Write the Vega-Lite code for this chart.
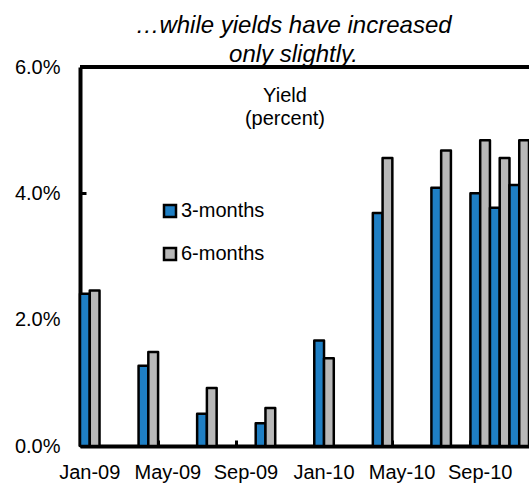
{
  "$schema": "https://vega.github.io/schema/vega-lite/v6.json",
  "width": 449,
  "height": 379,
  "autosize": {"type": "none"},
  "padding": {"left": 80, "top": 67, "right": 0, "bottom": 41},
  "background": "white",
  "config": {
    "font": "Liberation Sans",
    "view": {"stroke": null}
  },
  "title": {
    "text": ["…while yields have increased", "only slightly."],
    "fontSize": 24,
    "fontStyle": "italic",
    "fontWeight": "normal",
    "color": "black",
    "anchor": "middle",
    "baseline": "bottom",
    "lineHeight": 29,
    "dx": -11,
    "offset": -34
  },
  "data": {
    "values": [
      {"month": "Jan-09", "series": "3-months", "yield": 2.41},
      {"month": "Jan-09", "series": "6-months", "yield": 2.46},
      {"month": "Apr-09", "series": "3-months", "yield": 1.27},
      {"month": "Apr-09", "series": "6-months", "yield": 1.49},
      {"month": "Jul-09", "series": "3-months", "yield": 0.51},
      {"month": "Jul-09", "series": "6-months", "yield": 0.92},
      {"month": "Oct-09", "series": "3-months", "yield": 0.36},
      {"month": "Oct-09", "series": "6-months", "yield": 0.60},
      {"month": "Jan-10", "series": "3-months", "yield": 1.67},
      {"month": "Jan-10", "series": "6-months", "yield": 1.39},
      {"month": "Apr-10", "series": "3-months", "yield": 3.69},
      {"month": "Apr-10", "series": "6-months", "yield": 4.56},
      {"month": "Jul-10", "series": "3-months", "yield": 4.09},
      {"month": "Jul-10", "series": "6-months", "yield": 4.68},
      {"month": "Sep-10", "series": "3-months", "yield": 4.00},
      {"month": "Sep-10", "series": "6-months", "yield": 4.84},
      {"month": "Oct-10", "series": "3-months", "yield": 3.77},
      {"month": "Oct-10", "series": "6-months", "yield": 4.56},
      {"month": "Nov-10", "series": "3-months", "yield": 4.13},
      {"month": "Nov-10", "series": "6-months", "yield": 4.84}
    ]
  },
  "layer": [
    {
      "mark": {"type": "bar", "stroke": "black", "strokeWidth": 2.5, "strokeJoin": "round"},
      "encoding": {
        "x": {
          "field": "month",
          "type": "ordinal",
          "sort": null,
          "scale": {
            "domain": ["Jan-09","Feb-09","Mar-09","Apr-09","May-09","Jun-09","Jul-09","Aug-09","Sep-09","Oct-09","Nov-09","Dec-09","Jan-10","Feb-10","Mar-10","Apr-10","May-10","Jun-10","Jul-10","Aug-10","Sep-10","Oct-10","Nov-10"],
            "paddingInner": 0,
            "paddingOuter": 0
          },
          "axis": {
            "title": null,
            "values": ["Jan-09","May-09","Sep-09","Jan-10","May-10","Sep-10"],
            "labelAngle": 0,
            "labelFontSize": 20,
            "labelColor": "black",
            "labelPadding": 22,
            "bandPosition": 0,
            "domainColor": "black",
            "domainWidth": 4,
            "tickColor": "black",
            "tickWidth": 3,
            "tickSize": -6,
            "grid": false
          }
        },
        "xOffset": {
          "field": "series",
          "type": "nominal",
          "scale": {"paddingInner": 0, "paddingOuter": 0}
        },
        "y": {
          "field": "yield",
          "type": "quantitative",
          "scale": {"domain": [0, 6], "nice": false},
          "axis": {
            "title": null,
            "values": [0, 2, 4, 6],
            "labelExpr": "format(datum.value, '.1f') + '%'",
            "labelFontSize": 20,
            "labelColor": "black",
            "labelPadding": 26,
            "domainColor": "black",
            "domainWidth": 4,
            "tickColor": "black",
            "tickWidth": 3,
            "tickSize": -6,
            "grid": false
          }
        },
        "color": {
          "field": "series",
          "type": "nominal",
          "scale": {"domain": ["3-months", "6-months"], "range": ["#1f7fc4", "#b8b8b8"]},
          "legend": {
            "title": null,
            "orient": "none",
            "legendX": 80,
            "legendY": 134,
            "symbolType": "square",
            "symbolSize": 144,
            "symbolStrokeColor": "black",
            "symbolStrokeWidth": 2.5,
            "symbolOpacity": 1,
            "labelFontSize": 20,
            "labelColor": "black",
            "labelOffset": 1,
            "rowPadding": 21
          }
        }
      }
    },
    {
      "data": {"values": [{}]},
      "mark": {"type": "rule", "strokeWidth": 4, "color": "black"},
      "encoding": {"y": {"datum": 6}}
    },
    {
      "data": {"values": [{}]},
      "mark": {
        "type": "text",
        "text": ["Yield", "(percent)"],
        "fontSize": 20,
        "color": "black",
        "align": "center",
        "baseline": "alphabetic",
        "lineHeight": 23
      },
      "encoding": {
        "x": {"datum": "Nov-09", "band": 1},
        "y": {"datum": 5.45}
      }
    }
  ]
}
